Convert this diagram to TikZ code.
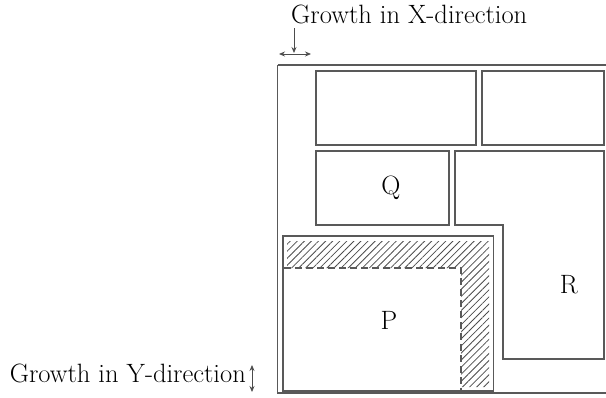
\documentclass[tikz,border=0pt]{standalone}
\usetikzlibrary{patterns.meta,arrows.meta}
\begin{document}
\begin{tikzpicture}[x=1pt,y=-1pt,
  box/.style={draw=black!65,line width=1.3pt},
  lbl/.style={font=\fontsize{26.5}{30}\selectfont,inner sep=0pt,text=black},
  growarrow/.style={draw=black!70,line width=0.8pt,{Stealth[length=6pt,width=5pt]}-{Stealth[length=6pt,width=5pt]}},
  downarrow/.style={draw=black!70,line width=0.8pt,-{Stealth[length=6pt,width=5pt]}}]
\useasboundingbox (0,0) rectangle (606,397);
% outer box
\draw[box] (277.5,65) -- (610,65) (277.5,65) -- (277.5,393) -- (610,393);
% boxes
\draw[box] (316,71) rectangle (476,145);
\draw[box] (482,71) rectangle (604,145);
\draw[box] (316,151) rectangle (449,225);
\draw[box] (455,151) -- (604,151) -- (604,359) -- (503,359) -- (503,225) -- (455,225) -- cycle;
% P hatched region
\fill[pattern={Lines[angle=45,distance=5pt,line width=0.8pt]},pattern color=black!70]
  (287,241) -- (489,241) -- (489,387) -- (461,387) -- (461,268) -- (287,268) -- cycle;
\draw[box] (283,236) rectangle (493.5,391);
\draw[draw=black!65,line width=1.3pt,dash pattern=on 7pt off 4pt] (284,268) -- (461,268) -- (461,390);
% labels
\node[lbl] (Q) at (391,188) {Q};
\node[lbl] (R) at (569,285) {R};
\node[lbl] (P) at (389,320) {P};
\node[lbl,anchor=base west] (gx) at (291,23) {Growth in X-direction};
\node[lbl,anchor=base east] (gy) at (246,382) {Growth in Y-direction};
% arrows
\coordinate (xl) at (279,54);
\coordinate (xr) at (311,54);
\coordinate (xt) at (294,28);
\coordinate (xb) at (294,53);
\draw[growarrow] (xl) -- (xr);
\draw[downarrow] (xt) -- (xb);
\coordinate (yt) at (252,365);
\coordinate (yb) at (252,392);
\draw[growarrow] (yt) -- (yb);
\end{tikzpicture}
\end{document}
